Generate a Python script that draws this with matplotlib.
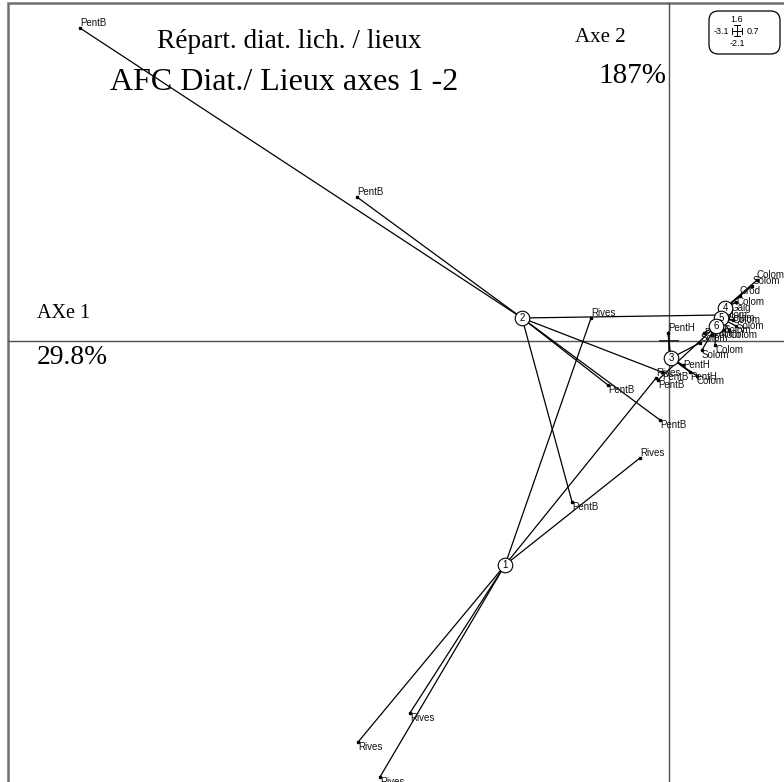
import numpy as np
import matplotlib.pyplot as plt
from matplotlib.patches import Rectangle, FancyBboxPatch

# group centres (factorial coordinates, axes 1-2)
group_ids = ["1", "2", "3", "4", "5", "6"]
group_x = [-0.770, -0.690, 0.009, 0.263, 0.244, 0.221]
group_y = [-1.052, 0.108, -0.080, 0.155, 0.108, 0.070]

# relevés: coordinates, label, group index
point_x = [-0.366, -0.061, -0.136, -1.460, -1.216, -1.357,
           -2.765, -1.465, -0.286, -0.042, -0.033, -0.455, 0.239,
           -0.005, 0.066, 0.099, 0.131, 0.146,
           0.413, 0.390, 0.333, 0.315, 0.291, 0.277,
           0.300, 0.315, 0.282,
           0.164, 0.202, 0.258, 0.216, 0.155, -0.052]
point_y = [0.108, -0.174, -0.549, -1.883, -1.746, -2.047,
           1.469, 0.676, -0.207, -0.371, -0.146, -0.756, 0.122,
           0.038, -0.113, -0.146, -0.164, -0.009,
           0.286, 0.258, 0.211, 0.183, 0.155, 0.108,
           0.099, 0.070, 0.052,
           0.038, 0.028, 0.052, -0.019, -0.042, -0.183]
point_lab = ["Rives", "Rives", "Rives", "Rives", "Rives", "Rives",
             "PentB", "PentB", "PentB", "PentB", "PentB", "PentB", "Colom",
             "PentH", "PentH", "PentH", "Colom", "Solom",
             "Colom", "Solom", "Crod", "Colom", "Gaig", "Solam",
             "Colom", "Solom", "Colom",
             "PentH", "Colom", "Solom", "Colom", "Solom", "PentB"]
point_grp = [0, 0, 0, 0, 0, 0,
             1, 1, 1, 1, 1, 1, 1,
             2, 2, 2, 2, 2,
             3, 3, 3, 3, 3, 3,
             4, 4, 4,
             5, 5, 5, 5, 5, 5]

# titles and axis captions
titles = ["Répart. diat. lich. / lieux", "AFC Diat./ Lieux axes 1 -2"]
axis_labels = ["AXe 1", "29.8%", "Axe 2", "187%"]
scale_vals = ["1.6", "-3.1", "0.7", "-2.1"]

W, H = 784, 782
fig = plt.figure(figsize=(W / 100, H / 100), dpi=100)
ax = fig.add_axes([0, 0, 1, 1])
ax.set_axis_off()

# 213 px per unit, origin at pixel (669, 341)
s = 213.0
ax.set_xlim(-669 / s, (W - 669) / s)
ax.set_ylim(-(H - 341) / s, 341 / s)

def fx(px):
    return px / W

def fy(py):
    return 1 - py / H

serif = "Liberation Serif"
sans = "Liberation Sans"

# frame
ax.add_patch(Rectangle((-3.103, -3.0), 4.5, 3.0 + 1.587, fill=False,
                       edgecolor="#707070", lw=1.8, zorder=1))
# axes through origin
ax.plot([-3.103, 1.0], [0, 0], color="#505050", lw=1.0, zorder=1)
ax.plot([0, 0], [-3.0, 1.587], color="#505050", lw=1.0, zorder=1)
ax.plot([-0.04, 0.04], [0, 0], color="#303030", lw=1.4, zorder=1)
ax.plot([0, 0], [-0.04, 0.04], color="#303030", lw=1.4, zorder=1)

# stars
for x, y, lab, g in zip(point_x, point_y, point_lab, point_grp):
    gx, gy = group_x[g], group_y[g]
    ax.plot([gx, x], [gy, y], color="black", lw=0.9, zorder=2)
    ax.plot(x, y, marker="s", ms=1.8, color="black", zorder=3)
    va = "bottom" if y > gy + 0.05 else ("center" if abs(y - gy) <= 0.05 else "top")
    ax.text(x, y, lab, fontsize=7, family=sans, ha="left", va=va,
            zorder=4, color="#111111")

ax.scatter(group_x, group_y, s=110, facecolor="white", edgecolor="black",
           linewidths=0.8, zorder=5)
for gid, gx, gy in zip(group_ids, group_x, group_y):
    ax.text(gx, gy, gid, fontsize=7, family=sans, ha="center", va="center",
            zorder=6)

# titles
ax.text(fx(157), fy(41), titles[0], family=serif, fontsize=19.6,
        transform=ax.transAxes, ha="left", va="center")
ax.text(fx(110), fy(82), titles[1], family=serif, fontsize=23,
        transform=ax.transAxes, ha="left", va="center")
ax.text(fx(37), fy(314), axis_labels[0], family=serif, fontsize=14.5,
        transform=ax.transAxes, ha="left", va="center")
ax.text(fx(37), fy(357), axis_labels[1], family=serif, fontsize=19.8,
        transform=ax.transAxes, ha="left", va="center")
ax.text(fx(575), fy(38), axis_labels[2], family=serif, fontsize=15,
        transform=ax.transAxes, ha="left", va="center")
ax.text(fx(598), fy(76), axis_labels[3], family=serif, fontsize=21,
        transform=ax.transAxes, ha="left", va="center")

# scale box
ax.add_patch(FancyBboxPatch((fx(709), fy(54)), fx(780) - fx(709), fy(11) - fy(54),
                            boxstyle="round,pad=0,rounding_size=0.012",
                            transform=ax.transAxes, fill=False,
                            edgecolor="black", lw=0.9, zorder=6))
box_pos = [(737, 19), (721, 31), (753, 31), (737, 43)]
for txt, (px, py) in zip(scale_vals, box_pos):
    ax.text(fx(px), fy(py), txt, family=sans, fontsize=6.5,
            transform=ax.transAxes, ha="center", va="center", zorder=7)
cx, cy = 737, 31
for seg in [((cx - 5, cy), (cx + 5, cy)), ((cx, cy - 6), (cx, cy + 5)),
            ((cx - 5, cy - 3), (cx - 5, cy + 3)), ((cx + 5, cy - 3), (cx + 5, cy + 3)),
            ((cx - 3, cy - 6), (cx + 3, cy - 6)), ((cx - 3, cy + 5), (cx + 3, cy + 5))]:
    (x0, y0), (x1, y1) = seg
    ax.plot([fx(x0), fx(x1)], [fy(y0), fy(y1)], color="black", lw=0.7,
            transform=ax.transAxes, zorder=7)

fig.savefig("out.png", dpi=100)
